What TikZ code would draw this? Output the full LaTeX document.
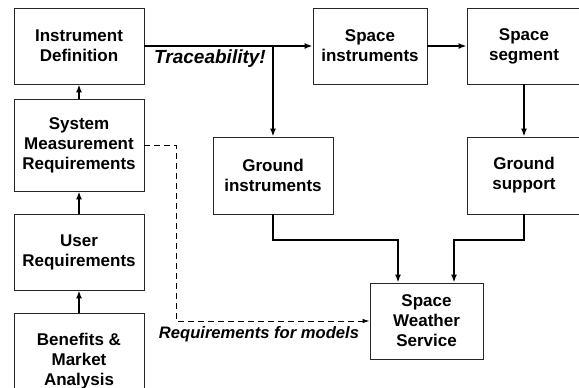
\documentclass[tikz,border=0pt]{standalone}
\usepackage{fontspec}
\setmainfont{Liberation Sans}
\usetikzlibrary{arrows.meta}
\begin{document}
\begin{tikzpicture}[x=1pt,y=-1pt,
  box/.style={draw=black!85,line width=0.9pt,rectangle,inner sep=0pt,align=center,
    font=\fontsize{17}{20}\selectfont\bfseries},
  conn/.style={line width=1.7pt,-{Latex[length=8pt,width=6pt]}},
  lab/.style={font=\fontsize{16.6}{20}\selectfont\bfseries\itshape,inner sep=0pt}]
\useasboundingbox (0,0) rectangle (579,388);
\clip (0,0) rectangle (579,388);
\node[box,minimum width=130pt,minimum height=76pt] (id) at (79,46) {Instrument\\Definition};
\node[box,minimum width=130pt,minimum height=92pt] (smr) at (79,145) {System\\Measurement\\Requirements};
\node[box,minimum width=130pt,minimum height=76pt] (ur) at (79,252) {User\\Requirements};
\node[box,minimum width=130pt,minimum height=96pt] (bm) at (79,361) {Benefits \&\\Market\\Analysis};
\node[box,minimum width=114pt,minimum height=76pt] (si) at (370,46) {Space\\instruments};
\node[box,minimum width=114pt,minimum height=76pt] (ss) at (524,46) {Space\\segment};
\node[box,minimum width=120pt,minimum height=77pt] (gi) at (273,175.5) {Ground\\instruments};
\node[box,minimum width=114pt,minimum height=77pt] (gs) at (524,175.5) {Ground\\support};
\node[box,minimum width=113pt,minimum height=76pt] (sws) at (426.5,321) {Space\\Weather\\Service};
\node[lab,font=\fontsize{19}{22}\selectfont\bfseries\itshape] (trace) at (210,59) {Traceability!};
\node[lab] (rfm) at (259,334) {Requirements for models};
\coordinate (branch) at (273,46);
\draw[conn] (bm.north) -- (ur.south);
\draw[conn] (ur.north) -- (smr.south);
\draw[conn] (smr.north) -- (id.south);
\draw[conn] (id.east) -- (si.west);
\draw[conn] (branch) -- (gi.north);
\draw[conn] (si.east) -- (ss.west);
\draw[conn] (ss.south) -- (gs.north);
\draw[conn] (gi.south) -- ++(0,25.5) -| ([xshift=-28.5pt]sws.north);
\draw[conn] (gs.south) -- ++(0,25.5) -| ([xshift=27.5pt]sws.north);
\draw[line width=0.9pt,dashed,dash pattern=on 6pt off 4pt,-{Latex[length=7pt,width=4.5pt]}] (smr.east) -- (176,145) |- (sws.west);
\end{tikzpicture}
\end{document}
